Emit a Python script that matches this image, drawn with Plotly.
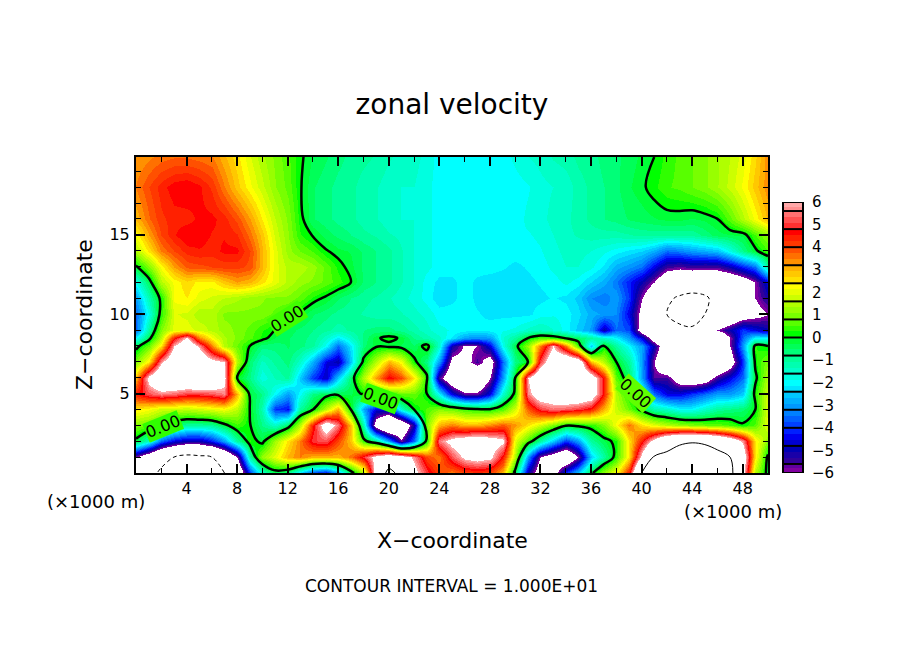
import plotly.graph_objects as go

WIDTH = 904
HEIGHT = 654

x_coord = list(range(0, 51))
z_coord = [0, 1, 2, 3, 4, 5, 6, 7, 8, 8.5, 9, 10, 11, 12, 13, 14, 15, 16, 18, 19.9]

# zonal velocity, one list per height
u_00 = [-7, -9, -10.5, -11.5, -12, -12, -11, -10, -8, -4, -1.5, -0.4, -0.8, -2.5, -4, -4.5, -3, -0.5, 1.5, 7, 11, 9, 6.5, 5, 4, 3.5, 4, 4.2, 4, 3, -0.4, -5, -7, -7, -4, -2.5, -0.2, 1.2, 2.2, 4.5, 10, 12, 13, 13.5, 13.5, 13, 12, 11, 6.5, 1.5, -0.3]
u_01 = [-6, -7.5, -9, -10, -10.8, -10.5, -10, -8.5, -6, -1, 1.2, 2, 3, 3.5, 3, 3, 3, 3.6, 5, 6.5, 7.5, 7, 5.7, 4, 3.5, 5.2, 6.3, 6.6, 6.3, 4.5, 1.5, -3, -6, -7, -8, -6, -2.5, -1, 0.3, 2.5, 6.5, 10.3, 10.8, 11.5, 11.8, 11.5, 11, 10, 7, 2.5, -0.2]
u_02 = [-0.2, -1.5, -3.5, -4.5, -5, -5, -4.2, -3, -1, 0.3, -0.2, 1.3, 2.5, 3.5, 5, 5.2, 4, 2.8, 0.3, -0.8, -3, -5.8, -3.5, 0.3, 5.5, 6.5, 7, 7.3, 6.8, 6.3, 2, 0.5, -1, -2.5, -4, -3, -1, -0.3, 0.2, 2.5, 4.5, 6.5, 8.5, 9.5, 9.8, 9.6, 8.8, 7.5, 5.7, 2.5, 1]
u_03 = [1, 0.8, 0.2, -0.5, -1, -1, -0.9, -0.2, 0.5, 0.05, -0.8, -1.5, -0.5, 1.5, 4.5, 7, 5.5, 2.8, -1.5, -7, -9, -8, -5, 1, 3, 3.5, 3, 3, 3.4, 3.8, 3.3, 2.5, 1.8, 1, 0.1, 0.2, 0.3, 1, 2.2, 3.6, 2.5, 2, 1.5, 1.2, 1, 0.8, 0.7, 0.5, 0.1, 0.6, 2]
u_04 = [2.5, 2.2, 1.8, 1.7, 1.6, 1.8, 2, 2.2, 1.6, 0, -1.2, -4, -4.3, -1, 0, 1.5, 3, 0, -3, -4.5, -4.5, -1.5, 0, 0.6, 1, 0.8, 0.4, 0.2, 0.1, 0.6, 1.8, 3.8, 5, 5.5, 5.3, 5, 4.5, 3, 1.7, 0.8, -0.2, -1.2, -1.5, -2, -2, -1.5, -1, -0.8, -0.6, 0, 2]
u_05 = [4.5, 5.2, 5.6, 5.4, 5, 5, 5.2, 5.6, 3, -0.2, -0.8, -2, -3, -2, -0.7, -0.4, -0.3, -0.3, 0.1, 0.1, 0.2, 0.8, 0.8, 0, -2, -4.5, -5.8, -5.8, -4.5, -1.5, 0.2, 5.6, 7, 7, 7.5, 7.5, 7, 4.5, 1.5, 0.2, -1.5, -3.5, -4.5, -4.5, -4, -3.5, -3, -3, -2.5, 0.3, 1.8]
u_06 = [3, 6.5, 8, 8, 8, 8.5, 8, 6.5, 0, -0.8, -1.8, -1.3, -1, -2.5, -4, -4.8, -2.5, -0.5, 1.5, 3.2, 4.8, 4, 2.5, 0.2, -5.5, -7.5, -9, -8, -6, -3, 0, 6, 8, 8, 8.2, 8, 7, 4.5, 0.7, -0.5, -3, -5.6, -5.5, -7, -7.5, -7, -5.5, -4.5, -3.5, -0.2, 1.5]
u_07 = [1, 2.5, 5.8, 7.5, 7.5, 7.5, 6.5, 6.1, 1.5, -0.6, -1.4, -1, -0.7, -1.5, -2.8, -4.5, -5, -2.5, 0.2, 1.5, 3, 2.2, 0.2, -0.8, -3, -6.5, -6.5, -5.5, -6.8, -3.5, -0.8, 0, 5, 7.5, 8, 7.5, 3, 1.5, 0, -1, -3, -6, -8, -9, -9.5, -9.3, -8.3, -7, -4, 0.2, 1]
u_08 = [-0.3, 0.8, 2.5, 6, 7.5, 5.8, 3.5, 1.5, 0.8, 0, -0.7, -0.7, -0.5, -0.7, -1, -2, -3.5, -2.2, -0.6, -0.1, -0.2, -0.3, -0.5, 0.3, -1.5, -5, -6.2, -6, -4.5, -1.8, -0.3, 1.2, 3.5, 6, 3.5, 0.6, -2.5, 0.1, -1, -2, -3, -5, -7.5, -9.5, -9.7, -9.7, -9, -6, -3, 0.3, 0]
u_85 = [-2, -0.3, 1.5, 4.5, 6.2, 3.5, 2.2, 1.4, 1, 0.6, 0.2, -0.3, -0.5, -0.7, -0.9, -1.5, -2.2, -1.5, -0.7, -0.1, 0.2, -0.1, -0.8, -1.2, -1.5, -2.2, -3, -3.2, -3, -1.6, -1, 0, 0.6, 0.5, -0.1, -0.5, -1, -1.5, -2, -3, -4.5, -7, -8.5, -9.5, -9.8, -9.5, -8, -6, -3.5, -2, -2]
u_09 = [-3.5, -1, 1, 2, 2, 1.8, 1.5, 1.2, 1, 0.7, 0.3, 0, -0.4, -0.6, -0.8, -1, -1.2, -1, -0.8, -0.7, -0.7, -0.9, -1.2, -1.5, -1.8, -1.9, -2, -2.1, -2, -1.9, -1.8, -1.5, -1.3, -1.6, -2, -2.5, -3, -5, -3.5, -3.8, -7, -8, -9, -9.5, -9.7, -8.5, -6, -5, -4, -4.5, -5]
u_10 = [-3.5, -1.8, 0.3, 1.9, 1.8, 1.4, 1.5, 1, 1, 1, 1, 0.7, 0.4, -0.1, -0.5, -0.7, -0.9, -1, -1.1, -1.2, -1.2, -1.3, -1.5, -1.7, -2, -2, -2, -2.1, -2.2, -2.2, -2.2, -2.2, -2, -1.9, -2, -2.3, -2.8, -3, -3.2, -4.5, -6.5, -8, -10, -10.8, -11, -10, -9, -8, -7, -6.5, -6]
u_11 = [-3, -1.2, 0.2, 2.2, 2.4, 2, 1.8, 1.6, 1.4, 1.2, 1.1, 1, 1, 0.7, 0.2, -0.1, -0.5, -0.8, -1, -1.1, -1.3, -1.5, -1.7, -2, -2.3, -2.2, -2, -2.2, -2.35, -2.35, -2.35, -2.2, -2.2, -2.1, -2.2, -2.5, -3.2, -3.4, -3, -4, -6, -7.5, -9.5, -10.4, -11, -10.5, -9, -8.5, -7.5, -6, -5.2]
u_12 = [-1.8, -0.4, 1.5, 2.2, 2.6, 2.3, 2.3, 2.8, 3.2, 3, 2.5, 2, 1.5, 1.2, 1, 0.7, 0.4, 0, -0.6, -0.8, -1, -1.3, -1.6, -2, -2.2, -2.2, -2, -2.2, -2.3, -2.3, -2.3, -2.2, -2.1, -2, -1.8, -2, -2.4, -2.8, -3.4, -4.2, -5, -6, -7.5, -8, -8, -8, -7.8, -7.6, -7, -6, -4.5]
u_13 = [-0.1, 1, 2.2, 3.2, 3.8, 3.9, 4, 4.1, 4.1, 3.9, 3, 2, 1.5, 1.5, 1.2, 0.7, 0.2, -0.2, -0.6, -0.8, -1, -1.3, -1.6, -1.8, -2, -2, -2, -2, -2, -2.1, -2.2, -2.1, -2, -1.8, -1.6, -1.6, -1.8, -2.2, -2.8, -3.1, -3.5, -4.5, -5.5, -5.7, -5.5, -5.6, -5.6, -5, -4.2, -3.5, -1]
u_14 = [1.5, 2.5, 3.5, 4, 4.4, 4.5, 4.4, 4.6, 4.6, 4, 3, 2, 1.2, 0.8, 0.5, 0.05, -0.2, -0.3, -0.6, -0.8, -1, -1.3, -1.6, -1.8, -2, -2, -1.9, -2, -2, -2, -2, -2, -1.9, -1.7, -1.5, -1.5, -1.6, -1.8, -2, -2.2, -2.4, -2.8, -3.5, -3.3, -3, -2.8, -2.6, -1.8, -0.8, -0.1, 0.5]
u_15 = [2.2, 3.2, 4, 4.5, 4.8, 4.7, 4.5, 4.5, 4.3, 3.6, 2.8, 1.8, 1.1, 0.3, -0.05, -0.4, -0.6, -0.8, -1, -1.1, -1.3, -1.4, -1.6, -1.8, -2, -2, -2, -2, -2, -2, -1.9, -1.9, -1.8, -1.6, -1.4, -1.3, -1.2, -1.2, -1.2, -1.1, -1, -1, -1, -1, -1, -0.7, -0.4, -0.3, -0.2, 0.5, 1.2]
u_16 = [3, 3.7, 4.2, 4.4, 4.4, 4.6, 4.6, 4.4, 3.9, 3.2, 2.4, 1.6, 1, 0.15, -0.5, -0.7, -0.9, -1, -1.2, -1.3, -1.5, -1.6, -1.6, -1.8, -2, -2, -2, -2, -2, -2, -2, -1.8, -1.7, -1.5, -1.4, -1.2, -1, -0.8, -0.7, -0.5, -0.4, -0.3, -0.2, -0.2, -0.3, -0.2, 0, 0.7, 1.5, 2.2, 3]
u_18 = [3.5, 4, 4.4, 4.7, 4.8, 4.6, 4.2, 3.5, 2.8, 2.2, 1.7, 1.1, 0.7, 0.05, -0.5, -0.7, -0.9, -1, -1.2, -1.3, -1.5, -1.6, -1.6, -1.8, -2, -2.1, -2.1, -2.1, -2.1, -2, -2, -1.9, -1.7, -1.6, -1.5, -1.2, -1, -0.8, -0.6, -0.3, -0.1, 0.2, 0.5, 0.6, 0.8, 1, 1.3, 1.7, 2.2, 2.8, 3.4]
u_20 = [3.2, 3.4, 3.6, 3.7, 3.7, 3.6, 3.5, 3, 2.5, 1.9, 1.4, 1, 0.6, 0.1, -0.3, -0.5, -0.7, -0.9, -1, -1.1, -1.3, -1.4, -1.5, -1.7, -2, -2, -2, -2.1, -2.1, -2, -1.8, -1.6, -1.5, -1.3, -1.2, -1, -0.9, -0.7, -0.6, -0.4, -0.2, 0, 0.4, 0.6, 0.8, 1, 1.3, 1.6, 2, 2.6, 3.4]

u_rows = [u_00, u_01, u_02, u_03, u_04, u_05, u_06, u_07, u_08, u_85, u_09,
          u_10, u_11, u_12, u_13, u_14, u_15, u_16, u_18, u_20]

# colour table, three shades per colorbar box
band_edges = [-6, -5.8, -5.6,
              -5.33, -5.07, -4.8, -4.53, -4.27, -4, -3.73, -3.47, -3.2,
              -2.93, -2.67, -2.4, -2.13, -1.87, -1.6, -1.33, -1.07, -0.8,
              -0.53, -0.27, 0, 0.27, 0.53, 0.8, 1.07, 1.33, 1.6,
              1.87, 2.13, 2.4, 2.67, 2.93, 3.2, 3.47, 3.73, 4,
              4.27, 4.53, 4.8, 5.07, 5.33, 5.6, 5.8, 6]
band_colors = ["#8000a0", "#6000a0",
               "#30009a", "#1a00a8", "#0000b4",
               "#0000d0", "#0000f0", "#0020ff",
               "#0040ff", "#0060ff", "#0080ff",
               "#0098ff", "#00b0ff", "#00c8ff",
               "#00e4ff", "#00ffff", "#00ffe0",
               "#00ffc8", "#00ffb0", "#00ff98",
               "#00ff78", "#00ff58", "#00ff38",
               "#00ff00", "#30ff00", "#58ff00",
               "#78ff00", "#98ff00", "#b0ff00",
               "#ccff00", "#e8ff00", "#ffff00",
               "#ffe000", "#ffc800", "#ffb000",
               "#ff9000", "#ff7000", "#ff5000",
               "#ff3800", "#ff2000", "#ff0000",
               "#ff3030", "#ff5050", "#ff7070",
               "#ff9090", "#ffa8a8"]
box_edges = [-6, -5.6, -4.8, -4, -3.2, -2.4, -1.6, -0.8, 0,
             0.8, 1.6, 2.4, 3.2, 4, 4.8, 5.6, 6]
bar_ticks = [-6, -5, -4, -3, -2, -1, 0, 1, 2, 3, 4, 5, 6]
bar_labels = ["\u22126", "\u22125", "\u22124", "\u22123", "\u22122", "\u22121",
              "0", "1", "2", "3", "4", "5", "6"]
x_ticks = list(range(4, 49, 4))
z_ticks = [5, 10, 15]

FONT = "DejaVu Sans"
ZMIN, ZMAX = -7, 7
PAGE_MARGIN = 8  # the page body pushes the figure in by this much


def scale_pos(value):
    return (value - ZMIN) / (ZMAX - ZMIN)


def px_x(px):
    return (px - PAGE_MARGIN) / WIDTH


def px_y(px):
    return 1 - (px - PAGE_MARGIN) / HEIGHT


def text_note(text, x, y, size, angle=0, bg=None):
    return dict(text=text, xref="paper", yref="paper", x=px_x(x), y=px_y(y), textangle=angle,
                xanchor="center", yanchor="middle", showarrow=False, font=dict(size=size),
                bgcolor=bg, borderpad=0)


# values past +-6 stay white, like the original
colorscale = [[0, "white"], [scale_pos(-6), "white"]]
for i, color in enumerate(band_colors):
    colorscale.append([scale_pos(band_edges[i]), color])
    colorscale.append([scale_pos(band_edges[i + 1]), color])
colorscale += [[scale_pos(6), "white"], [1, "white"]]

fig = go.Figure()

fig.add_trace(
    go.Heatmap(x=x_coord, y=z_coord, z=u_rows, zmin=ZMIN, zmax=ZMAX, zsmooth="best",
               colorscale=colorscale, showscale=False, hoverinfo="skip")
)
# zero line, then interval lines solid above and dashed below
for level, width, dash in [(0, 2.5, "solid"), (10, 1, "solid"), (-10, 1, "4px,3px")]:
    fig.add_trace(
        go.Contour(x=x_coord, y=z_coord, z=u_rows, autocontour=False, showscale=False,
                   contours=dict(start=level, end=level, size=1, coloring="none"),
                   line=dict(color="black", width=width, dash=dash), hoverinfo="skip")
    )

# colorbar is its own small axes so the boxes can be separated
fig.add_trace(
    go.Heatmap(x=[0, 1], y=band_edges, z=[[(band_edges[i] + band_edges[i + 1]) / 2]
                                           for i in range(len(band_colors))],
               zmin=ZMIN, zmax=ZMAX, colorscale=colorscale, showscale=False,
               xaxis="x2", yaxis="y2", hoverinfo="skip")
)
sep_x, sep_y = [], []
for edge in box_edges:
    sep_x += [0, 1, None]
    sep_y += [edge, edge, None]
fig.add_trace(
    go.Scatter(x=sep_x, y=sep_y, mode="lines", line=dict(color="black", width=2),
               xaxis="x2", yaxis="y2", showlegend=False, hoverinfo="skip")
)

fig.update_layout(
    template="none",
    width=WIDTH,
    height=HEIGHT,
    margin=dict(l=0, r=0, t=0, b=0),
    paper_bgcolor="white",
    plot_bgcolor="white",
    showlegend=False,
    font=dict(family=FONT, size=16, color="black"),
    title=dict(text="zonal velocity", x=px_x(452), xanchor="center",
               y=px_y(104), yanchor="middle", font=dict(size=28)),
    xaxis=dict(domain=[px_x(136), px_x(768)], range=[0, 50], automargin=False,
               tickvals=x_ticks, ticks="inside", ticklen=9, tickwidth=2,
               tickcolor="black", minor=dict(dtick=2, tick0=0, ticks="inside", ticklen=5,
                                             tickwidth=1, tickcolor="black"),
               ticklabelstandoff=0, showgrid=False, zeroline=False, showline=True, linewidth=2,
               linecolor="black", mirror="ticks"),
    yaxis=dict(domain=[px_y(473), px_y(157)], range=[0, 19.9], automargin=False,
               tickvals=z_ticks, ticks="inside", ticklen=9, tickwidth=2, tickcolor="black",
               minor=dict(dtick=1, tick0=0, ticks="inside", ticklen=5, tickwidth=1,
                          tickcolor="black"),
               ticklabelstandoff=1, showgrid=False, zeroline=False, showline=True, linewidth=2,
               linecolor="black", mirror="ticks"),
    xaxis2=dict(domain=[px_x(784), px_x(802)], range=[0, 1], anchor="y2", visible=False),
    yaxis2=dict(domain=[px_y(473), px_y(202)], range=[-6, 6], anchor="x2", automargin=False,
                side="right", tickvals=bar_ticks, ticktext=bar_labels, ticks="",
                ticklabelstandoff=5, showgrid=False, zeroline=False, showline=True, linewidth=2,
                linecolor="black", mirror=True, tickfont=dict(size=15)),
    annotations=[
        text_note("X\u2212coordinate", 452, 540, 22),
        text_note("Z\u2212coordinate", 84, 315, 22, angle=-90),
        text_note("(\u00d71000 m)", 96, 501, 18),
        text_note("(\u00d71000 m)", 733, 511, 18),
        text_note("CONTOUR INTERVAL = 1.000E+01", 451, 586, 17),
        # the 0.00 labels of the zero line
        text_note("0.00", 287, 318, 16, angle=-32, bg="#40ff00"),
        text_note("0.00", 381, 398, 16, angle=20, bg="#30ff00"),
        text_note("0.00", 163, 426, 16, angle=-22, bg="#30ff00"),
        text_note("0.00", 636, 393, 16, angle=42, bg="#60ff00"),
    ],
)

fig.write_html("out.html")
